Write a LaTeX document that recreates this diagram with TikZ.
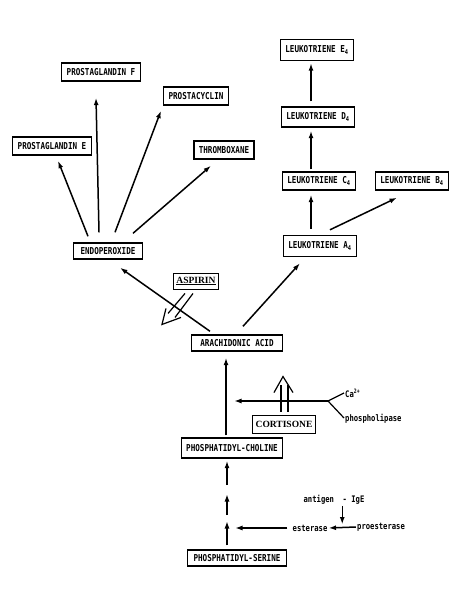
\documentclass[tikz,border=0pt]{standalone}
\usepackage{fontspec}
\usepackage{tikz}
\usetikzlibrary{arrows.meta,calc}
\newfontfamily\boxfont[FakeStretch=0.8]{DejaVu Sans Mono}
\newfontfamily\drugfont{Liberation Serif}

\tikzset{
  box/.style={draw,line width=1.4pt,font=\boxfont\bfseries\fontsize{9.5}{10}\selectfont,inner xsep=5pt,minimum height=18pt},
  drug/.style={draw,line width=0.9pt,font=\drugfont\bfseries\fontsize{9.5}{10}\selectfont,inner sep=3pt,minimum height=16pt},
  lbl/.style={font=\boxfont\bfseries\fontsize{9}{10}\selectfont,inner sep=1pt},
  arr/.style={line width=1.5pt,-{Latex[length=7.5pt,width=5pt]}},
  thin/.style={line width=1.2pt},
}

\begin{document}
\begin{tikzpicture}[x=1pt,y=-1pt]
\useasboundingbox (0,0) rectangle (455,601);
%\draw[help lines,step=50] (0,0) grid (455,601);

% prostaglandin side
\node[box] (pgf) at (101,72) {PROSTAGLANDIN F};
\node[box] (pcyc) at (196,96) {PROSTACYCLIN};
\node[box] (pge) at (52,146) {PROSTAGLANDIN E};
\node[box] (thx) at (224,150) {THROMBOXANE};
\node[box,minimum height=16pt,inner xsep=7pt] (endo) at (108,251) {ENDOPEROXIDE};

% leukotriene side
\node[box,minimum height=21pt] (le) at (317,50) {LEUKOTRIENE E\textsubscript{4}};
\node[box,minimum height=20pt] (ld) at (318,117) {LEUKOTRIENE D\textsubscript{4}};
\node[box,minimum height=18pt] (lc) at (319,181) {LEUKOTRIENE C\textsubscript{4}};
\node[box,minimum height=18pt] (lb) at (412,181) {LEUKOTRIENE B\textsubscript{4}};
\node[box,minimum height=21pt] (la) at (320,246) {LEUKOTRIENE A\textsubscript{4}};

\node[box,minimum height=16pt,inner xsep=9pt] (aa) at (237,343) {ARACHIDONIC ACID};
\node[box,minimum height=20pt] (pc) at (232,448) {PHOSPHATIDYL-CHOLINE};
\node[box,minimum height=16pt,inner xsep=6pt] (ps) at (237,558) {PHOSPHATIDYL-SERINE};

\node[drug] (asp) at (196,281) {\underline{ASPIRIN}};
\node[drug,minimum height=18pt] (cort) at (284,424) {CORTISONE};

\node[lbl,anchor=west] (ca) at (344,393) {Ca\textsuperscript{2+}};
\node[lbl,anchor=west] (phl) at (344,419) {phospholipase};
\node[lbl] (antigen) at (334,500) {antigen\ \ - IgE};
\node[lbl] (ester) at (310,528) {esterase};
\node[lbl] (proester) at (381,527) {proesterase};

% fan out of endoperoxide
\draw[arr] ($(endo.north)+(-20,-6)$) -- ($(pge.south)+(6,5)$);
\draw[arr] ($(endo.north)+(-9,-10)$) -- ($(pgf.south)+(-5,16)$);
\draw[arr] ($(endo.north)+(7,-10)$) -- ($(pcyc.south)+(-35,5)$);
\draw[arr] ($(endo.north)+(25,-9)$) -- ($(thx.south)+(-13,6)$);

% leukotriene chain
\draw[arr] ($(la.north)+(-9,-6)$) -- ($(lc.south)+(-8,4)$);
\draw[arr] ($(la.north)+(10,-5)$) -- ($(lb.south)+(-15,7)$);
\draw[arr] ($(lc.north)+(-8,-2)$) -- ($(ld.south)+(-7,3)$);
\draw[arr] ($(ld.north)+(-7,-5)$) -- ($(le.south)+(-6,2)$);

% arachidonic acid
\draw[arr] ($(aa.north)+(-27,-3)$) -- ($(endo.south)+(12,8)$);
\draw[arr] ($(aa.north)+(6,-8)$) -- ($(la.south)+(-20,6)$);
\draw[arr] ($(pc.north)+(-6,-2)$) -- ($(aa.south)+(-11,6)$);

% aspirin block
\draw[thin] ($(asp.south)+(-11,4)$) -- ($(asp.south)+(-28,24)$);
\draw[thin] ($(asp.south)+(-3,4)$) -- ($(asp.south)+(-21,28)$);
\draw[thin] ($(asp.south)+(-30,19)$) -- ($(asp.south)+(-34,35)$) -- ($(asp.south)+(-15,28)$);

% cortisone block
\draw[thin] ($(cort.north)+(-3,-3)$) -- ($(cort.north)+(-3,-30)$);
\draw[thin] ($(cort.north)+(4,-3)$) -- ($(cort.north)+(4,-30)$);
\draw[thin] ($(cort.north)+(-10,-22)$) -- ($(cort.north)+(-1,-38)$) -- ($(cort.north)+(9,-22)$);

% phospholipase
\coordinate (yj) at (328,401);
\coordinate (aaline) at (226,401);
\draw[thin] (ca.west) -- (yj) -- ($(phl.west)+(0,-1)$);
\draw[arr,shorten >=8pt] (yj) -- (aaline);

% serine to choline
\coordinate (g1) at (227,518);
\coordinate (g2) at (227,490);
\coordinate (jn) at (227,528);
\draw[arr] ($(ps.north)+(-10,-4)$) -- ($(g1)+(0,3)$);
\draw[arr] ($(g1)+(0,-3)$) -- ($(g2)+(0,4)$);
\draw[arr] ($(g2)+(0,-5)$) -- ($(pc.south)+(-5,2)$);

% esterase
\coordinate (ej) at ($(ester.east)!.5!(proester.west)$);
\draw[arr,shorten >=8pt] ($(ester.west)+(-4,0)$) -- (jn);
\draw[arr] (proester.west) -- (ester.east);
\draw[arr] (antigen.south -| ej) -- ($(ej)+(0,-3)$);

\end{tikzpicture}
\end{document}
